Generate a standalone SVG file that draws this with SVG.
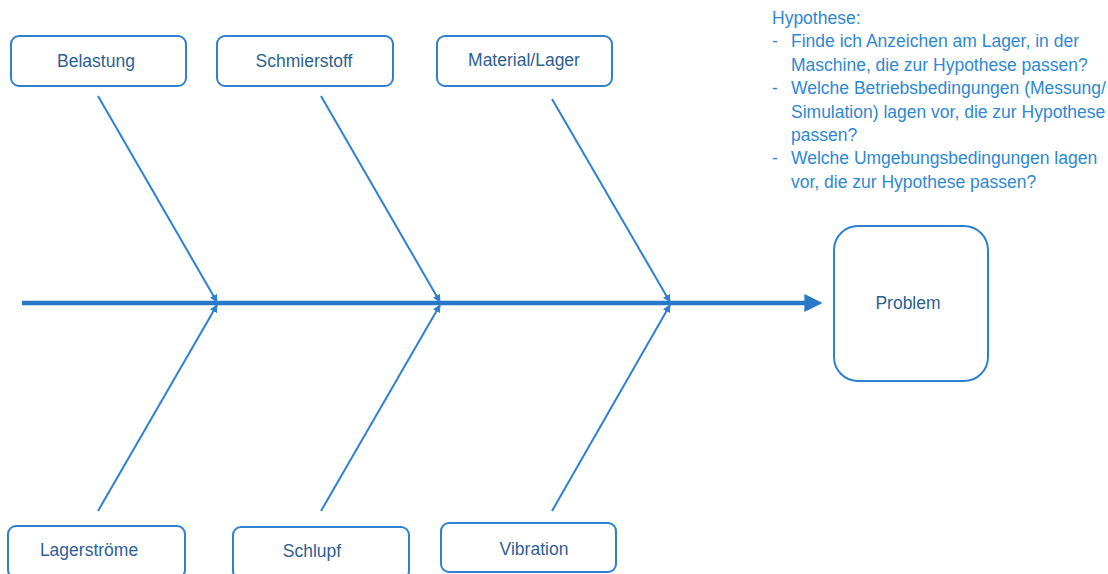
<svg xmlns="http://www.w3.org/2000/svg" width="1108" height="574" viewBox="0 0 1108 574">
<style>
.box{fill:#fff;stroke:#2f80cf;stroke-width:2}
.lbl{font-family:"Liberation Sans",Arial,sans-serif;font-size:17.5px;fill:#2e5f93;text-anchor:middle}
.bone{stroke:#2f80cf;stroke-width:2;fill:none;marker-end:url(#sm)}
.hyp{font-family:"Liberation Sans",Arial,sans-serif;font-size:17.5px;fill:#2e88d4}
</style>
<defs>
<marker id="sm" viewBox="0 0 10 10" refX="9" refY="5" markerWidth="4" markerHeight="4" orient="auto" markerUnits="strokeWidth"><path d="M0,0 L10,5 L0,10 Z" fill="#2f80cf"/></marker>
<marker id="big" viewBox="0 0 10 10" refX="2" refY="5" markerWidth="4" markerHeight="4" orient="auto" markerUnits="strokeWidth"><path d="M0,0 L10,5 L0,10 Z" fill="#2878c8"/></marker>
</defs>
<g id="connectors">
<line x1="22" y1="303" x2="808" y2="303" stroke="#2878c8" stroke-width="4.5" marker-end="url(#big)"/>
<line class="bone" x1="98" y1="96" x2="217" y2="302"/>
<line class="bone" x1="321" y1="96" x2="440" y2="302"/>
<line class="bone" x1="552" y1="99" x2="670" y2="302"/>
<line class="bone" x1="98" y1="511" x2="217" y2="305"/>
<line class="bone" x1="321" y1="511" x2="440" y2="305"/>
<line class="bone" x1="552" y1="511" x2="670" y2="305"/>
</g>
<g id="belastung"><rect class="box" x="11" y="36" width="175" height="50" rx="8"/><text class="lbl" x="96" y="67">Belastung</text></g>
<g id="schmierstoff"><rect class="box" x="217" y="36" width="176" height="50" rx="8"/><text class="lbl" x="304" y="67">Schmierstoff</text></g>
<g id="material"><rect class="box" x="437" y="36" width="175" height="50" rx="8"/><text class="lbl" x="524" y="66">Material/Lager</text></g>
<g id="lagerstroeme"><rect class="box" x="8" y="526" width="177" height="52" rx="8"/><text class="lbl" x="89" y="556">Lagerströme</text></g>
<g id="schlupf"><rect class="box" x="233" y="527" width="176" height="52" rx="8"/><text class="lbl" x="312" y="557">Schlupf</text></g>
<g id="vibration"><rect class="box" x="441" y="523" width="175" height="49" rx="8"/><text class="lbl" x="534" y="555">Vibration</text></g>
<g id="problem"><rect class="box" x="834" y="226" width="154" height="155" rx="24"/><text class="lbl" x="908" y="309">Problem</text></g>
<g id="hypothese" class="hyp">
<text x="772" y="24">Hypothese:</text>
<text x="772" y="47.4">-</text><text x="791" y="47.4">Finde ich Anzeichen am Lager, in der</text>
<text x="791" y="70.8">Maschine, die zur Hypothese passen?</text>
<text x="772" y="94.2">-</text><text x="791" y="94.2">Welche Betriebsbedingungen (Messung/</text>
<text x="791" y="117.6">Simulation) lagen vor, die zur Hypothese</text>
<text x="791" y="141">passen?</text>
<text x="772" y="164.4">-</text><text x="791" y="164.4">Welche Umgebungsbedingungen lagen</text>
<text x="791" y="187.8">vor, die zur Hypothese passen?</text>
</g>
</svg>
